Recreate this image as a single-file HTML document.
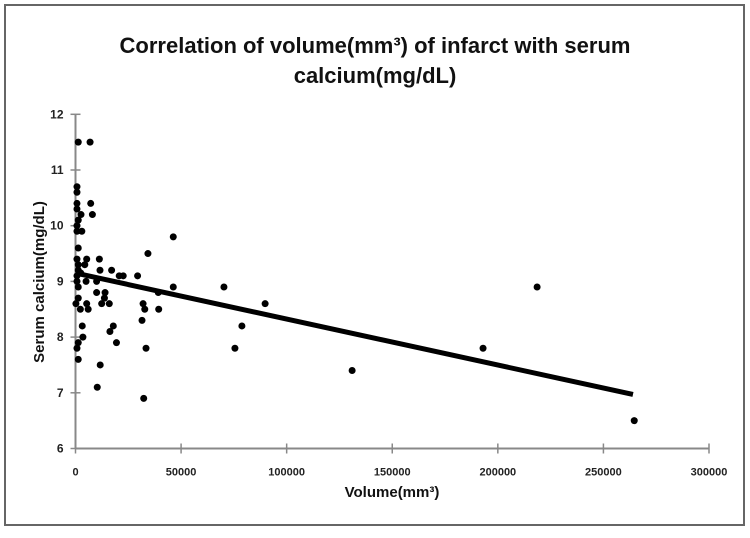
<!DOCTYPE html>
<html><head><meta charset="utf-8"><style>
body{margin:0;background:#fff;font-family:"Liberation Sans",sans-serif;}
</style></head><body>
<svg width="750" height="533" xmlns="http://www.w3.org/2000/svg">
<rect x="5" y="5" width="739" height="520" fill="#fff" stroke="#666" stroke-width="2"/>
<text x="375" y="53" text-anchor="middle" font-size="22" font-weight="bold" fill="#111">Correlation of volume(mm³) of infarct with serum</text>
<text x="375" y="83" text-anchor="middle" font-size="22" font-weight="bold" fill="#111">calcium(mg/dL)</text>
<text transform="translate(44,282) rotate(-90)" text-anchor="middle" font-size="15" font-weight="bold" fill="#111">Serum calcium(mg/dL)</text>
<text x="392" y="497" text-anchor="middle" font-size="15" font-weight="bold" fill="#111">Volume(mm³)</text>
<g id="axes"></g>
<g id="marks"></g>
</svg>
<script>
const xTicks=[0,50000,100000,150000,200000,250000,300000];
const yTicks=[6,7,8,9,10,11,12];
const volumes=[1300,6900,700,700,700,700,7200,8000,2600,1300,700,700,3000,1300,700,5300,11300,1300,4400,1300,2500,700,11600,17100,20700,22600,29400,700,5000,10000,1300,46300,10000,14000,39200,13700,1300,200,5300,12400,16000,32000,2300,6000,32800,39400,34300,46300,31500,3200,17900,16300,3500,1300,19400,700,33400,1300,11700,10300,32300,75500,78800,70300,89800,131000,193000,218600,264600];
const calcium=[11.5,11.5,10.7,10.6,10.4,10.3,10.4,10.2,10.2,10.1,10.0,9.9,9.9,9.6,9.4,9.4,9.4,9.3,9.3,9.2,9.15,9.1,9.2,9.2,9.1,9.1,9.1,9.0,9.0,9.0,8.9,8.9,8.8,8.8,8.8,8.7,8.7,8.6,8.6,8.6,8.6,8.6,8.5,8.5,8.5,8.5,9.5,9.8,8.3,8.2,8.2,8.1,8.0,7.9,7.9,7.8,7.8,7.6,7.5,7.1,6.9,7.8,8.2,8.9,8.6,7.4,7.8,8.9,6.5];
const trendX=[0,264000];
const trendY=[9.15,6.97];
const NS='http://www.w3.org/2000/svg';
const X=v=>75.5+v*(709-75.5)/300000;
const Y=v=>448.5-(v-6)*55.7;
const axes=document.getElementById('axes'),marks=document.getElementById('marks');
function mk(tag,attrs,parent){const e=document.createElementNS(NS,tag);for(const k in attrs)e.setAttribute(k,attrs[k]);parent.appendChild(e);return e;}
let a=mk('line',{x1:X(0),y1:Y(6),x2:X(300000),y2:Y(6),stroke:'#888','stroke-width':2},axes);


a=mk('line',{x1:X(0),y1:Y(6),x2:X(0),y2:Y(12),stroke:'#888','stroke-width':2},axes);


xTicks.forEach(t=>{
 const l=mk('line',{x1:X(t),y1:Y(6)-5,x2:X(t),y2:Y(6)+5,stroke:'#888','stroke-width':1.5},axes);
 
 
 const tx=mk('text',{x:X(t),y:Y(6)+27,'text-anchor':'middle','font-size':11,'font-weight':'bold',fill:'#222'},axes);
 tx.textContent=t;
 
 
});
yTicks.forEach(t=>{
 const l=mk('line',{x1:X(0)-5,y1:Y(t),x2:X(0)+5,y2:Y(t),stroke:'#888','stroke-width':1.5},axes);
 
 
 const tx=mk('text',{x:X(0)-12,y:Y(t)+4,'text-anchor':'end','font-size':12,'font-weight':'bold',fill:'#222'},axes);
 tx.textContent=t;
 
 
});
const tl=mk('line',{x1:X(trendX[0]),y1:Y(trendY[0]),x2:X(trendX[1]),y2:Y(trendY[1]),stroke:'#000','stroke-width':5},marks);


volumes.forEach((v,i)=>{
 const c=mk('circle',{cx:X(v),cy:Y(calcium[i]),r:3.5,fill:'#000'},marks);
 
 
});
</script>
</body></html>
